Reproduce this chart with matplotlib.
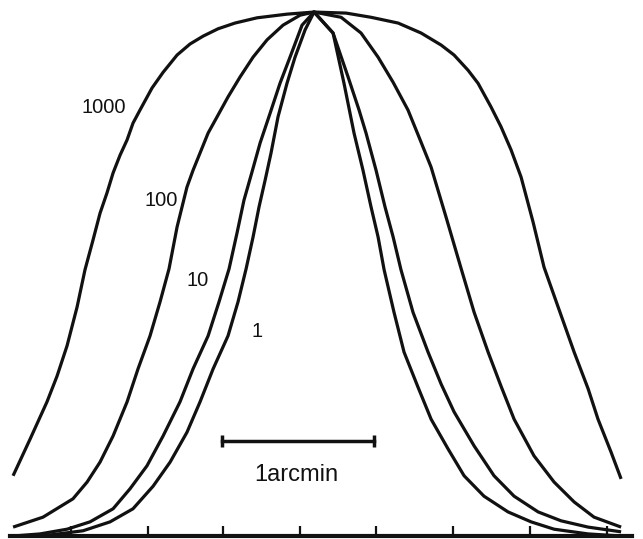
import matplotlib
matplotlib.use("Agg")
import matplotlib.pyplot as plt

plt.rcParams["font.family"] = ["Liberation Sans", "DejaVu Sans"]

INK = "#111111"

# x: offset from peak in arcmin, i: intensity normalised to the peak
x_1000 = [-1.980, -1.868, -1.757, -1.691, -1.625, -1.559, -1.507, -1.454, -1.408,
          -1.362, -1.322, -1.276, -1.230, -1.191, -1.145, -1.066, -0.993, -0.901,
          -0.816, -0.730, -0.632, -0.520, -0.375, -0.178, 0.0,
          0.211, 0.375, 0.553, 0.704, 0.836, 0.921, 1.013, 1.079, 1.164, 1.230,
          1.296, 1.362, 1.441, 1.513, 1.618, 1.711, 1.803, 1.868, 1.954, 2.020]
i_1000 = [0.115, 0.185, 0.256, 0.305, 0.363, 0.437, 0.508, 0.565, 0.616,
          0.655, 0.693, 0.727, 0.756, 0.788, 0.813, 0.855, 0.885, 0.918,
          0.939, 0.954, 0.968, 0.979, 0.989, 0.996, 1.0,
          0.998, 0.990, 0.979, 0.960, 0.937, 0.918, 0.889, 0.864, 0.819, 0.781,
          0.737, 0.685, 0.599, 0.513, 0.427, 0.351, 0.281, 0.223, 0.160, 0.109]

x_100 = [-1.980, -1.783, -1.586, -1.493, -1.408, -1.322, -1.230, -1.158, -1.079,
         -1.013, -0.954, -0.901, -0.836, -0.796, -0.750, -0.697, -0.638, -0.566,
         -0.487, -0.401, -0.309, -0.204, -0.092, 0.0,
         0.178, 0.309, 0.421, 0.520, 0.618, 0.691, 0.770, 0.868, 0.967, 1.053,
         1.145, 1.230, 1.316, 1.447, 1.579, 1.711, 1.842, 2.020]
i_100 = [0.017, 0.036, 0.071, 0.103, 0.141, 0.191, 0.256, 0.319, 0.382,
         0.447, 0.510, 0.590, 0.666, 0.698, 0.731, 0.769, 0.800, 0.838,
         0.876, 0.914, 0.947, 0.975, 0.994, 1.0,
         0.990, 0.960, 0.914, 0.866, 0.813, 0.761, 0.704, 0.609, 0.511, 0.427,
         0.351, 0.286, 0.223, 0.153, 0.103, 0.065, 0.036, 0.017]

x_10 = [-1.980, -1.803, -1.625, -1.474, -1.322, -1.211, -1.099, -0.993, -0.882,
        -0.796, -0.697, -0.625, -0.559, -0.507, -0.461, -0.408, -0.355, -0.289,
        -0.224, -0.158, -0.079, 0.0,
        0.125, 0.224, 0.296, 0.342, 0.408, 0.467, 0.520, 0.572, 0.651, 0.750,
        0.836, 0.921, 1.053, 1.184, 1.316, 1.474, 1.625, 1.803, 2.020]
i_10 = [0.0, 0.004, 0.013, 0.027, 0.052, 0.090, 0.134, 0.191, 0.256,
        0.319, 0.382, 0.447, 0.510, 0.578, 0.641, 0.695, 0.750, 0.807,
        0.864, 0.914, 0.975, 1.0,
        0.960, 0.876, 0.813, 0.769, 0.698, 0.628, 0.571, 0.508, 0.427, 0.351,
        0.290, 0.237, 0.172, 0.115, 0.076, 0.046, 0.029, 0.017, 0.008]

x_1 = [-1.980, -1.737, -1.520, -1.342, -1.191, -1.059, -0.947, -0.836, -0.750,
       -0.664, -0.566, -0.500, -0.447, -0.401, -0.362, -0.322, -0.283, -0.237,
       -0.178, -0.125, -0.059, 0.0,
       0.125, 0.197, 0.263, 0.322, 0.375, 0.421, 0.461, 0.526, 0.592, 0.684,
       0.770, 0.882, 0.987, 1.118, 1.276, 1.428, 1.579, 1.803, 2.020]
i_1 = [0.0, 0.002, 0.010, 0.027, 0.052, 0.095, 0.141, 0.198, 0.256,
       0.319, 0.382, 0.447, 0.510, 0.571, 0.628, 0.679, 0.731, 0.800,
       0.864, 0.914, 0.966, 1.0,
       0.960, 0.864, 0.769, 0.698, 0.628, 0.571, 0.508, 0.427, 0.351, 0.284,
       0.223, 0.166, 0.115, 0.076, 0.046, 0.027, 0.013, 0.004, 0.0]

curve_labels = ["1000", "100", "10", "1"]
label_x = [-1.382, -1.007, -0.763, -0.375]
label_y = [0.817, 0.641, 0.487, 0.391]

tick_positions = [-1.599, -1.092, -0.599, -0.092, 0.408, 0.914, 1.421, 1.928]

scale_start, scale_end, scale_y = -0.605, 0.395, 0.181
scale_text = "1arcmin"

fig = plt.figure(figsize=(6.43, 5.39), dpi=100)
ax = fig.add_axes([0, 0, 1, 1])
ax.set_xlim(-2.066, 2.164)
ax.set_ylim(-0.0057, 1.023)

for xs, ys in [(x_1000, i_1000), (x_100, i_100), (x_10, i_10), (x_1, i_1)]:
    ax.plot(xs, ys, color=INK, linewidth=2.3, solid_joinstyle="round",
            solid_capstyle="butt", zorder=3)

for txt, tx, ty in zip(curve_labels, label_x, label_y):
    ax.text(tx, ty, txt, ha="center", va="center", fontsize=14.5, color=INK)

# scale bar
ax.plot([scale_start, scale_end], [scale_y, scale_y], color=INK, linewidth=2.5)
ax.plot([scale_start, scale_end], [scale_y, scale_y], linestyle="none",
        marker="|", markersize=9, markeredgewidth=2.5, color=INK)
ax.text(-0.118, 0.116, scale_text, ha="center", va="center", fontsize=17,
        color=INK)

# only the bottom axis, ticks pointing up
for side in ["top", "left", "right"]:
    ax.spines[side].set_visible(False)
ax.spines["bottom"].set_position(("data", 0))
ax.spines["bottom"].set_bounds(-2.0, 2.09)
ax.spines["bottom"].set_linewidth(3)
ax.spines["bottom"].set_color(INK)
ax.set_xticks(tick_positions)
ax.tick_params(axis="x", direction="in", length=7.5, width=1.6, colors=INK,
               labelbottom=False)
ax.set_yticks([])
ax.set_facecolor("white")

fig.savefig("out.png", dpi=100, facecolor="white")
plt.close(fig)
